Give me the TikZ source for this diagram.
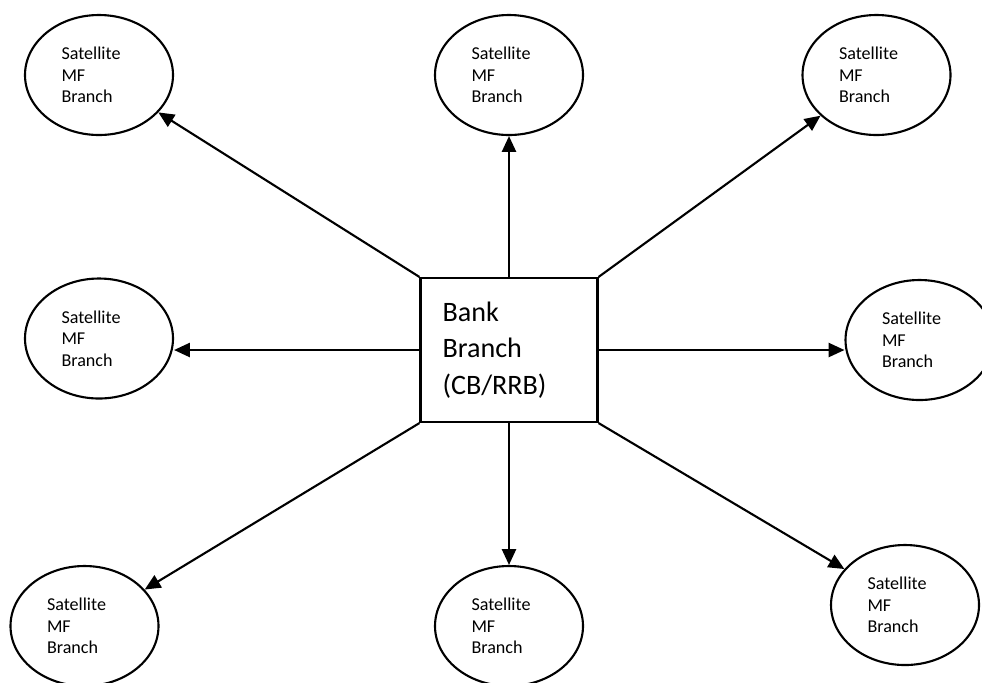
\documentclass[tikz,border=0pt]{standalone}
\usepackage{fontspec}
\setmainfont{Carlito}
\usetikzlibrary{shapes.geometric, arrows.meta}

\begin{document}
\begin{tikzpicture}[>={Triangle[length=9pt, width=8pt]}, line width=1.2pt,
    sat/.style={ellipse, draw, minimum width=2.96cm, minimum height=2.4cm,
        inner sep=0pt, text width=1.5cm, align=left,
        font=\fontsize{10.3}{12.3}\selectfont},
    bank/.style={rectangle, draw, minimum width=3.54cm, minimum height=2.88cm,
        inner sep=0pt, text width=2.66cm, align=left,
        font=\fontsize{16}{20.7}\selectfont}]
    \useasboundingbox (0, 0) rectangle (19.64, -13.64);

    \node[bank] (0) at (10.18, -7.00) {Bank\\ Branch\\ (CB/RRB)};
    \node[sat] (1) at (1.98, -1.50) {Satellite\\ MF\\ Branch};
    \node[sat] (2) at (10.18, -1.50) {Satellite\\ MF\\ Branch};
    \node[sat] (3) at (17.53, -1.50) {Satellite\\ MF\\ Branch};
    \node[sat] (4) at (1.98, -6.77) {Satellite\\ MF\\ Branch};
    \node[sat] (5) at (18.39, -6.80) {Satellite\\ MF\\ Branch};
    \node[sat] (6) at (1.69, -12.52) {Satellite\\ MF\\ Branch};
    \node[sat] (7) at (10.18, -12.52) {Satellite\\ MF\\ Branch};
    \node[sat] (8) at (18.10, -12.10) {Satellite\\ MF\\ Branch};

    \path[->]
        (0.north west) edge[] (1)
        (0.north) edge[] (2)
        (0.north east) edge[] (3)
        (0.west) edge[] (0.west -| 4.east)
        (0.east) edge[] (0.east -| 5.west)
        (0.south west) edge[] (6)
        (0.south) edge[] (7)
        (0.south east) edge[] (8)
    ;
\end{tikzpicture}
\end{document}
